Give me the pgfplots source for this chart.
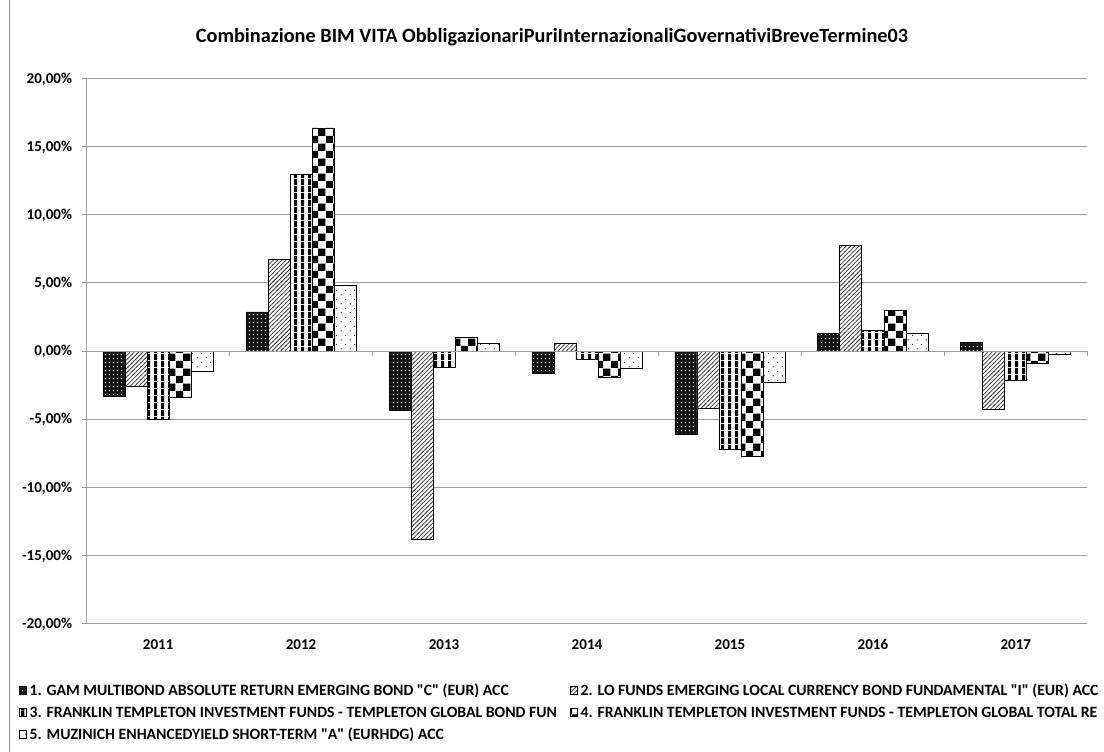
\documentclass[border=0pt]{standalone}
\usepackage{fontspec}
\setmainfont{Carlito}[Ligatures=TeXOff]
\usepackage{pgfplots}
\pgfplotsset{compat=1.18}
\usetikzlibrary{patterns}

\pgfdeclarepatternformonly{wdots}{\pgfqpoint{0pt}{0pt}}{\pgfqpoint{2.6pt}{2.6pt}}{\pgfqpoint{2.6pt}{2.6pt}}{%
  \pgfpathrectangle{\pgfqpoint{0.8pt}{0.8pt}}{\pgfqpoint{1pt}{1pt}}\pgfusepath{fill}}
\pgfdeclarepatternformonly{diag}{\pgfqpoint{-1pt}{-1pt}}{\pgfqpoint{4.2pt}{4.2pt}}{\pgfqpoint{3.2pt}{3.2pt}}{%
  \pgfsetlinewidth{0.55pt}\pgfpathmoveto{\pgfqpoint{-0.3pt}{-0.3pt}}\pgfpathlineto{\pgfqpoint{3.5pt}{3.5pt}}\pgfusepath{stroke}}
\pgfdeclarepatternformonly{vstripes}{\pgfqpoint{0pt}{0pt}}{\pgfqpoint{5.25pt}{5.25pt}}{\pgfqpoint{5.25pt}{5.25pt}}{%
  \pgfpathrectangle{\pgfqpoint{0pt}{0pt}}{\pgfqpoint{2.6pt}{5.25pt}}\pgfusepath{fill}}
\pgfdeclarepatternformonly{checker}{\pgfqpoint{0pt}{0pt}}{\pgfqpoint{11pt}{11pt}}{\pgfqpoint{11pt}{11pt}}{%
  \pgfpathrectangle{\pgfqpoint{0pt}{0pt}}{\pgfqpoint{5.5pt}{5.5pt}}%
  \pgfpathrectangle{\pgfqpoint{5.5pt}{5.5pt}}{\pgfqpoint{5.5pt}{5.5pt}}\pgfusepath{fill}}
\pgfdeclarepatternformonly{sdots}{\pgfqpoint{0pt}{0pt}}{\pgfqpoint{7pt}{7pt}}{\pgfqpoint{7pt}{7pt}}{%
  \pgfpathcircle{\pgfqpoint{1.75pt}{1.75pt}}{0.55pt}%
  \pgfpathcircle{\pgfqpoint{5.25pt}{5.25pt}}{0.55pt}\pgfusepath{fill}}

\pgfplotstableread{
x s1 s2 s3 s4 s5
0 -3.33 -2.58 -5.02 -3.41 -1.48
1 2.87 6.76 12.98 16.37 4.81
2 -4.38 -13.79 -1.23 0.98 0.59
3 -1.64 0.59 -0.63 -1.94 -1.24
4 -6.13 -4.23 -7.25 -7.70 -2.27
5 1.30 7.74 1.51 2.96 1.30
6 0.61 -4.28 -2.16 -0.89 -0.28
}\datatable

\begin{document}
\begin{tikzpicture}[x=1pt,y=1pt]
\useasboundingbox (0,0) rectangle (828,563.25);
\draw[black!45, line width=0.75pt] (6.75,-5) -- (6.75,570);
\node[font=\bfseries\fontsize{15.2}{17}\selectfont, anchor=base] at (414,531.4) {Combinazione BIM VITA ObbligazionariPuriInternazionaliGovernativiBreveTermine03};
\begin{axis}[
  at={(65pt,95.6pt)}, anchor=south west,
  width=750.5pt, height=408.75pt, scale only axis,
  xmin=-0.5, xmax=6.5, ymin=-20, ymax=20,
  ytick distance=5,
  ymajorgrids, grid style={black!38, line width=0.75pt},
  axis x line*=bottom, axis y line*=left,
  axis line style={black!38, line width=0.75pt},
  xtick={0,1,2,3,4,5,6},
  xticklabels={2011,2012,2013,2014,2015,2016,2017},
  xtick style={draw=none},
  ytick style={black!38, line width=0.75pt},
  tick align=outside, major tick length=3.75pt,
  /pgf/number format/assume math mode=true,
  tick label style={font=\bfseries\fontsize{11.3}{13}\selectfont},
  yticklabel={\pgfmathprintnumber[fixed,fixed zerofill,precision=2,use comma]{\tick}\%},
  yticklabel style={anchor=base east, inner sep=0pt, xshift=-7pt, yshift=-3.6pt},
  xticklabel style={anchor=base, inner sep=0pt, yshift=-15.5pt},
  ybar, bar width=0.154,
  legend columns=2,
  legend cell align=left,
  legend style={at={(axis description cs:-0.0676,-0.1107)}, anchor=north west,
    draw=none, fill=none, inner sep=0pt,
    font=\bfseries\fontsize{11.8}{14}\selectfont,
    nodes={inner sep=0pt, text height=8.5pt, text depth=2.5pt},
    row sep=5.5pt,
    /tikz/every odd column/.append style={column sep=2pt},
    /tikz/every even column/.append style={column sep=10pt}},
  legend image code/.code={\draw[#1, line width=0.5pt] (0pt,-1.8pt) rectangle (5.3pt,3.5pt);},
]
\addplot[bar shift=-0.308, draw=black, line width=0.6pt, fill=black!92, postaction={pattern=wdots, pattern color=white}] table[x=x,y=s1] {\datatable};
\addplot[bar shift=-0.154, draw=black, line width=0.6pt, fill=white, postaction={pattern=diag, pattern color=black!75}] table[x=x,y=s2] {\datatable};
\addplot[bar shift=0, draw=black, line width=0.6pt, fill=white, postaction={pattern=vstripes, pattern color=black}] table[x=x,y=s3] {\datatable};
\addplot[bar shift=0.154, draw=black, line width=0.6pt, fill=white, postaction={pattern=checker, pattern color=black}] table[x=x,y=s4] {\datatable};
\addplot[bar shift=0.308, draw=black, line width=0.6pt, fill=white, postaction={pattern=sdots, pattern color=black!80}] table[x=x,y=s5] {\datatable};
\legend{1. GAM MULTIBOND ABSOLUTE RETURN EMERGING BOND "C" (EUR) ACC,
2. LO FUNDS EMERGING LOCAL CURRENCY BOND FUNDAMENTAL "I" (EUR) ACC,
3. FRANKLIN TEMPLETON INVESTMENT FUNDS - TEMPLETON GLOBAL BOND FUN,
4. FRANKLIN TEMPLETON INVESTMENT FUNDS - TEMPLETON GLOBAL TOTAL RE,
5. MUZINICH ENHANCEDYIELD SHORT-TERM "A" (EURHDG) ACC}
\end{axis}
\begin{axis}[
  at={(65pt,95.6pt)}, anchor=south west,
  width=750.5pt, height=408.75pt, scale only axis,
  xmin=-0.5, xmax=6.5, ymin=-20, ymax=20,
  axis x line*=middle, axis y line=none,
  axis line style={black!38, line width=0.75pt},
  xtick={-0.5,0.5,1.5,2.5,3.5,4.5,5.5,6.5}, xticklabels={},
  tick align=outside, major tick length=3.75pt,
  xtick style={black!38, line width=0.75pt},
]
\addplot[draw=none] coordinates {(0,0)};
\end{axis}
\end{tikzpicture}
\end{document}
